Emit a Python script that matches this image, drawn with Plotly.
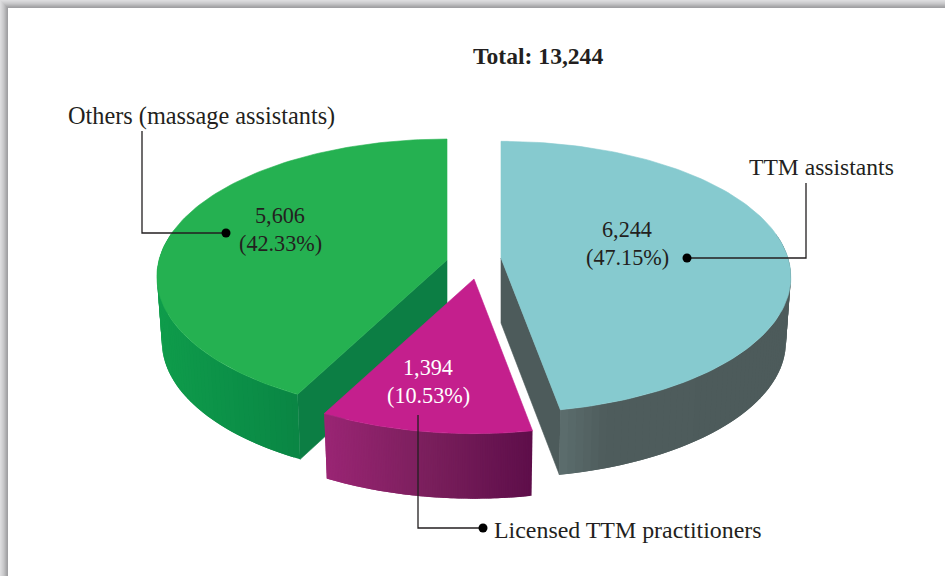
import math
import plotly.graph_objects as go

# ---- data ----
categories = ["TTM assistants", "Licensed TTM practitioners", "Others (massage assistants)"]
values = [6244, 1394, 5606]
total_label = "Total: 13,244"

# ---- style ----
top_colors = ["#86cacf", "#c41f8d", "#25b151"]
cut_colors = ["#4d5b5b", None, "#0c7e44"]
side_stops = [
    [(0.0, "#5c6e6e"), (0.2, "#4e5c5c"), (1.0, "#4d5b5b")],
    [(0.0, "#9a2574"), (0.5, "#7a1f5c"), (1.0, "#5e0e4a")],
    [(0.0, "#0f9c4b"), (0.6, "#0b8f47"), (1.0, "#0a8544")],
]
apexes = [(501, 258), (474, 279), (447, 260)]
slice_rx = [287, 283, 288]
slice_ry = [133, 133, 135.5]
slice_k = [0.14, 0.14, 0.12]
draw_order = [0, 2, 1]
DEPTH, BASE_SX = 65, 0.983
FONT = "Liberation Serif"
INK = "#231f20"
FS = 23.6


def project(i, theta, sx=1.0, dy=0.0):
    ax, ay = apexes[i]
    u, v = math.sin(theta), -math.cos(theta)
    w = 1 - slice_k[i] * v
    return ax + sx * slice_rx[i] * u / w, ay + dy + slice_ry[i] * v / w


def hexrgb(c):
    return tuple(int(c[i:i + 2], 16) for i in (1, 3, 5))


def ramp(stops, t):
    for (t0, c0), (t1, c1) in zip(stops, stops[1:]):
        if t <= t1:
            f = (t - t0) / (t1 - t0)
            a, b = hexrgb(c0), hexrgb(c1)
            return "rgb(%d,%d,%d)" % tuple(round(a[i] + (b[i] - a[i]) * f) for i in range(3))
    return stops[-1][1]


def poly(fig, pts, color, lw=0.6):
    xs = [p[0] for p in pts] + [pts[0][0]]
    ys = [p[1] for p in pts] + [pts[0][1]]
    fig.add_trace(go.Scatter(x=xs, y=ys, mode="lines", fill="toself", fillcolor=color,
                             line=dict(color=color, width=lw), hoverinfo="skip", showlegend=False))


fig = go.Figure()
tot = sum(values)
start = 0.0
spans = []
for v in values:
    end = start + 2 * math.pi * v / tot
    spans.append((start, end))
    start = end

for i in draw_order:
    t0, t1 = spans[i]
    ax, ay = apexes[i]
    n = 120
    thetas = [t0 + (t1 - t0) * j / n for j in range(n + 1)]
    # cut face
    if cut_colors[i]:
        cut_theta = t1 if i == 0 else t0
        poly(fig, [(ax, ay), project(i, cut_theta),
                   project(i, cut_theta, BASE_SX, DEPTH), (ax, ay + DEPTH)], cut_colors[i])
    # outer wall, shaded along x; strips overlap so no seams appear
    vis = [t for t in thetas if math.cos(t) < 0.2]
    lo = min(project(i, t)[0] for t in vis)
    hi = max(project(i, t)[0] for t in vis)
    for a, b in zip(vis, vis[1:]):
        bb = min(b + (t1 - t0) / n, vis[-1])
        mid = project(i, (a + b) / 2)[0]
        poly(fig, [project(i, a), project(i, bb),
                   project(i, bb, BASE_SX, DEPTH), project(i, a, BASE_SX, DEPTH)],
             ramp(side_stops[i], (mid - lo) / (hi - lo)), lw=0)
    # top face
    poly(fig, [(ax, ay)] + [project(i, t) for t in thetas], top_colors[i])

# leaders
leaders = [
    ([806, 806, 687], [183, 258, 258]),
    ([418, 418, 483], [415, 528, 528]),
    ([142, 142, 226], [131, 233, 233]),
]
for lx, ly in leaders:
    fig.add_trace(go.Scatter(x=lx, y=ly, mode="lines", line=dict(color="#231f20", width=1.3),
                             hoverinfo="skip", showlegend=False))
    fig.add_trace(go.Scatter(x=[lx[-1]], y=[ly[-1]], mode="markers",
                             marker=dict(color="#000000", size=9), hoverinfo="skip", showlegend=False))


def text(x, y, s, color=INK, bold=False, size=FS):
    fig.add_annotation(x=x, y=y, text=f"<b>{s}</b>" if bold else s, showarrow=False, xanchor="center",
                       yanchor="middle", font=dict(family=FONT, size=size, color=color))


value_pos = [(627, 229, 257), (428, 367, 395), (280, 215, 243)]
value_col = [INK, "#ffffff", INK]
for v, (x, y1, y2), c in zip(values, value_pos, value_col):
    text(x, y1, f"{v:,}", c, size=22.2)
    text(x, y2, f"({v / tot * 100:.2f}%)", c, size=22.2)

text(821, 167, categories[0])
text(628, 530, categories[1], size=23.9)
text(201.5, 116, categories[2], size=24.3)
text(538, 56, total_label, bold=True)

# page shadow along top and left edges
shapes = []
greys = ["#dcdcde", "#d6d6d8", "#cfcfd1", "#c8c8ca", "#bebec0", "#b3b3b5", "#a8a8aa", "#a0a0a3"]
for k, g in enumerate(greys):
    shapes.append(dict(type="rect", xref="x", yref="y", x0=k, x1=945, y0=k, y1=k + 1, fillcolor=g, line_width=0, layer="below"))
    shapes.append(dict(type="rect", xref="x", yref="y", x0=k, x1=k + 1, y0=k, y1=576, fillcolor=g, line_width=0, layer="below"))

fig.update_layout(
    width=945, height=576, margin=dict(l=0, r=0, t=0, b=0),
    paper_bgcolor="#ffffff", plot_bgcolor="#ffffff", showlegend=False, shapes=shapes,
    xaxis=dict(range=[0, 945], visible=False, fixedrange=True),
    yaxis=dict(range=[576, 0], visible=False, fixedrange=True),
)
fig.write_html("out.html", config={"displayModeBar": False},
               post_script="document.body.style.margin='0';document.body.style.overflow='hidden';")
